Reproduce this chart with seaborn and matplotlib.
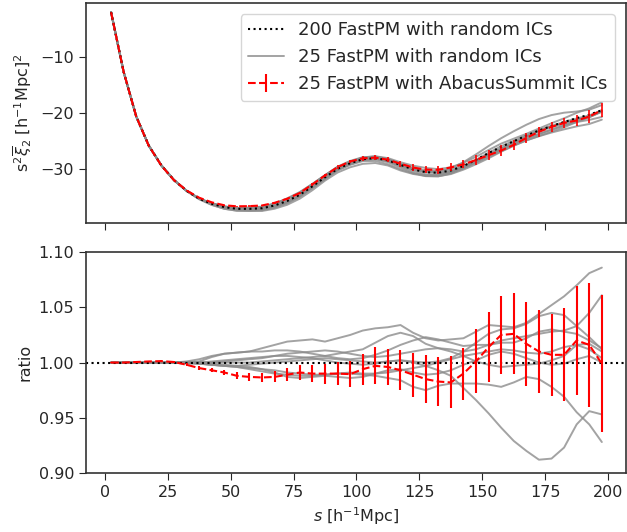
import matplotlib
matplotlib.use('Agg')
import matplotlib.pyplot as plt
import numpy as np
import pandas as pd
import seaborn as sns

# separation bins [h^-1 Mpc]
s = np.arange(2.5, 200, 5.0)

# mean of 200 FastPM with random ICs (s^2 xi_2)
ref = [-2.1, -12.7, -20.6, -25.8, -29.3, -31.9, -33.8, -35.2, -36.1, -36.7,
       -37.0, -37.0, -36.9, -36.4, -35.6, -34.5, -33.0, -31.4, -29.9, -28.9,
       -28.2, -28.0, -28.4, -29.2, -30.0, -30.5, -30.6, -30.2, -29.4, -28.3,
       -27.1, -26.0, -25.0, -24.0, -23.1, -22.3, -21.6, -20.9, -20.3, -19.5]

# ratio of 25 FastPM with AbacusSummit ICs to the reference, and its error
abacus_ratio = [1.000, 1.000, 1.0005, 1.001, 1.0013, 1.0005, 0.998, 0.995, 0.993, 0.991,
                0.988, 0.987, 0.9865, 0.987, 0.989, 0.991, 0.990, 0.990, 0.990, 0.9895,
                0.994, 0.997, 0.996, 0.993, 0.989, 0.985, 0.9828, 0.982, 0.990, 1.001,
                1.014, 1.025, 1.026, 1.017, 1.010, 1.007, 1.007, 1.020, 1.016, 0.999]
abacus_err = [0.0002, 0.0003, 0.0004, 0.0005, 0.0007, 0.0009, 0.0012, 0.0016, 0.002, 0.0025,
              0.003, 0.0035, 0.004, 0.005, 0.006, 0.007, 0.008, 0.009, 0.0105, 0.012,
              0.014, 0.0167, 0.0167, 0.018, 0.020, 0.022, 0.022, 0.0235, 0.0235, 0.029,
              0.032, 0.0356, 0.0367, 0.038, 0.038, 0.037, 0.042, 0.049, 0.056, 0.062]

# ratios of several sets of 25 FastPM with random ICs to the reference
random_a = [1.000, 1.000, 1.000, 1.000, 1.000, 1.000, 1.001, 1.003, 1.006, 1.008,
            1.009, 1.010, 1.013, 1.016, 1.019, 1.020, 1.021, 1.019, 1.022, 1.025,
            1.029, 1.031, 1.032, 1.034, 1.027, 1.022, 1.020, 1.021, 1.022, 1.028,
            1.034, 1.033, 1.032, 1.036, 1.044, 1.052, 1.060, 1.070, 1.081, 1.086]
random_b = [1.000, 1.000, 1.000, 1.000, 1.000, 1.000, 1.000, 1.001, 1.005, 1.008,
            1.009, 1.010, 1.010, 1.011, 1.011, 1.010, 1.008, 1.006, 1.004, 1.003,
            1.004, 1.007, 1.011, 1.016, 1.020, 1.023, 1.021, 1.018, 1.015, 1.016,
            1.016, 1.020, 1.022, 1.024, 1.026, 1.028, 1.029, 1.033, 1.045, 1.061]
random_c = [1.000, 1.000, 1.000, 1.000, 1.000, 1.000, 1.000, 1.000, 1.000, 1.001,
            1.002, 1.003, 1.004, 1.006, 1.008, 1.009, 1.010, 1.011, 1.010, 1.008,
            1.006, 1.005, 1.006, 1.008, 1.010, 1.012, 1.013, 1.012, 1.010, 1.012,
            1.016, 1.018, 1.018, 1.022, 1.028, 1.030, 1.028, 1.026, 1.020, 1.013]
random_d = [1.000, 1.000, 1.000, 1.000, 1.000, 1.000, 0.999, 0.999, 0.998, 0.997,
            0.997, 0.998, 0.999, 1.000, 1.001, 1.002, 1.003, 1.004, 1.003, 1.002,
            1.001, 1.000, 1.001, 1.002, 1.000, 0.997, 0.993, 0.988, 0.977, 0.966,
            0.954, 0.941, 0.929, 0.920, 0.912, 0.913, 0.923, 0.944, 0.956, 0.953]
random_e = [1.000, 1.000, 1.000, 1.000, 1.000, 1.000, 1.000, 0.999, 0.998, 0.997,
            0.996, 0.994, 0.992, 0.990, 0.989, 0.988, 0.988, 0.989, 0.990, 0.990,
            0.989, 0.988, 0.986, 0.984, 0.978, 0.975, 0.979, 0.981, 0.981, 0.981,
            0.980, 0.978, 0.982, 0.987, 0.985, 0.978, 0.969, 0.955, 0.944, 0.928]
random_f = [1.000, 1.000, 1.000, 1.000, 1.000, 1.000, 1.000, 1.000, 1.001, 1.002,
            1.003, 1.004, 1.005, 1.006, 1.006, 1.005, 1.004, 1.002, 1.000, 0.999,
            0.998, 0.999, 1.001, 1.002, 1.001, 1.000, 1.001, 1.004, 1.010, 1.018,
            1.026, 1.030, 1.031, 1.035, 1.042, 1.045, 1.043, 1.033, 1.023, 1.012]
random_g = [1.000, 1.000, 1.000, 1.000, 1.000, 1.000, 1.000, 1.000, 1.000, 1.000,
            1.000, 1.000, 1.001, 1.002, 1.003, 1.004, 1.005, 1.006, 1.008, 1.010,
            1.012, 1.018, 1.024, 1.027, 1.024, 1.017, 1.013, 1.010, 1.006, 1.001,
            0.998, 0.996, 0.997, 0.998, 0.999, 1.002, 1.006, 1.016, 1.017, 1.010]
random_h = [1.000, 1.000, 1.000, 1.000, 1.000, 1.000, 1.000, 0.999, 0.998, 0.997,
            0.996, 0.995, 0.994, 0.993, 0.991, 0.990, 0.989, 0.989, 0.990, 0.991,
            0.990, 0.990, 0.991, 0.993, 0.995, 0.997, 1.000, 1.003, 1.006, 1.008,
            1.010, 1.012, 1.011, 1.009, 1.008, 1.010, 1.014, 1.016, 1.012, 1.004]
random_i = [1.000, 1.000, 1.000, 1.000, 1.000, 1.000, 1.000, 1.000, 0.999, 0.998,
            0.997, 0.996, 0.994, 0.991, 0.987, 0.986, 0.987, 0.988, 0.987, 0.986,
            0.987, 0.990, 0.993, 0.994, 0.991, 0.989, 0.990, 0.993, 0.998, 1.002,
            1.007, 1.010, 1.008, 1.004, 1.000, 0.998, 0.999, 1.003, 1.006, 1.000]

random_sets = [random_a, random_b, random_c, random_d, random_e,
               random_f, random_g, random_h, random_i]

ref = np.array(ref)
abacus_ratio = np.array(abacus_ratio)
abacus_err = np.array(abacus_err)

rows = []
for k, r in enumerate(random_sets):
    for si, ri, fi in zip(s, r, ref):
        rows.append({'s': si, 'run': k, 'ratio': ri, 'xi': ri * fi})
df = pd.DataFrame(rows)

sns.set_style('ticks')
plt.rcParams['font.family'] = ['DejaVu Sans']
plt.rcParams['font.size'] = 11.5
plt.rcParams['axes.edgecolor'] = '#333333'
plt.rcParams['axes.linewidth'] = 1.2

fig = plt.figure(figsize=(6.27, 5.32), dpi=100)
ax1 = fig.add_axes([0.137, 0.581, 0.861, 0.413])
ax2 = fig.add_axes([0.137, 0.111, 0.861, 0.415], sharex=ax1)

grey_pal = ['#8c8c8c'] * len(random_sets)

# top panel
sns.lineplot(data=df, x='s', y='xi', hue='run', palette=grey_pal, estimator=None,
             legend=False, lw=1.4, alpha=0.8, ax=ax1)
ax1.plot(s, ref, ls=':', color='k', lw=1.5)
ax1.errorbar(s, ref * abacus_ratio, yerr=np.abs(ref) * abacus_err, color='red',
             ls='--', lw=1.5, elinewidth=1.2)
ax1.set_ylim(-39.5, -0.5)
ax1.set_yticks([-10, -20, -30])
ax1.set_ylabel(r'$\mathrm{s}^2\overline{\xi}_2$ [h$^{-1}$Mpc]$^2$')
ax1.set_xlabel('')
ax1.tick_params(labelbottom=False, direction='out', length=5)

# bottom panel
sns.lineplot(data=df, x='s', y='ratio', hue='run', palette=grey_pal, estimator=None,
             legend=False, lw=1.4, alpha=0.8, ax=ax2)
ax2.axhline(1.0, ls=':', color='k', lw=1.5)
ax2.errorbar(s, abacus_ratio, yerr=abacus_err, color='red', ls='--', lw=1.5,
             elinewidth=1.5)
ax2.set_ylim(0.9, 1.1)
ax2.set_yticks([0.90, 0.95, 1.00, 1.05, 1.10])
ax2.set_yticklabels(['0.90', '0.95', '1.00', '1.05', '1.10'])
ax2.set_xlim(-7.5, 207)
ax2.set_xticks(np.arange(0, 201, 25))
ax2.set_ylabel('ratio')
ax2.set_xlabel(r'$s$ [h$^{-1}$Mpc]')
ax2.tick_params(direction='out', length=5)

# legend
h_ref, = ax1.plot([], [], ls=':', color='k', lw=1.5)
h_rand, = ax1.plot([], [], color='#8c8c8c', lw=1.4, alpha=0.8)
h_aba = ax1.errorbar([], [], yerr=[], color='red', ls='--', lw=1.5)
ax1.legend([h_ref, h_rand, h_aba],
           ['200 FastPM with random ICs', '25 FastPM with random ICs',
            '25 FastPM with AbacusSummit ICs'],
           loc='upper right', fontsize=13, frameon=True, borderaxespad=0.6)

fig.savefig('out.png', dpi=100)
